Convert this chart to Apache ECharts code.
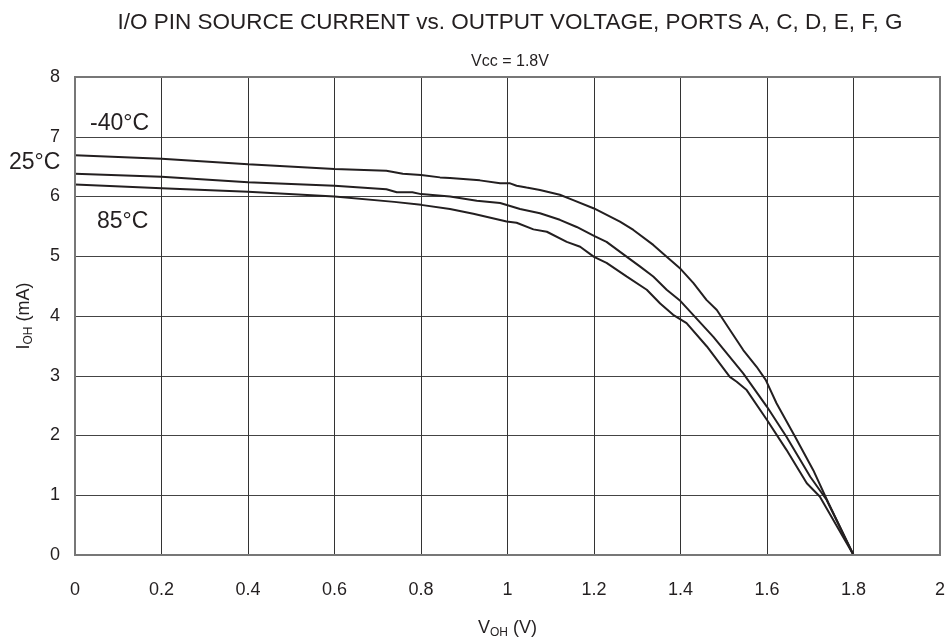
<!DOCTYPE html>
<html>
<head>
<meta charset="utf-8">
<script src="https://cdn.jsdelivr.net/npm/echarts@6/dist/echarts.min.js"></script>
<style>html,body{margin:0;padding:0;background:#fff}#c{width:952px;height:642px}</style>
</head>
<body>
<div id="c"></div>
<script>
const xTicks = [0, 0.2, 0.4, 0.6, 0.8, 1, 1.2, 1.4, 1.6, 1.8, 2];
const yTicks = [0, 1, 2, 3, 4, 5, 6, 7, 8];

const vM40 = [0, 0.2, 0.4, 0.6, 0.72, 0.758, 0.8, 0.844, 0.867, 0.936, 0.983, 1.006, 1.021, 1.044, 1.075, 1.121, 1.152, 1.2, 1.26, 1.291, 1.337, 1.368, 1.4, 1.43, 1.46, 1.484, 1.514, 1.545, 1.576, 1.597, 1.622, 1.665, 1.707, 1.742, 1.8];
const iM40 = [6.69, 6.63, 6.54, 6.46, 6.43, 6.38, 6.36, 6.32, 6.31, 6.27, 6.22, 6.22, 6.18, 6.15, 6.11, 6.03, 5.94, 5.80, 5.58, 5.44, 5.19, 4.99, 4.79, 4.55, 4.27, 4.10, 3.77, 3.43, 3.15, 2.93, 2.54, 1.98, 1.42, 0.87, 0];

const v25 = [0, 0.2, 0.4, 0.6, 0.72, 0.744, 0.78, 0.8, 0.867, 0.929, 0.983, 1.029, 1.075, 1.121, 1.16, 1.2, 1.229, 1.276, 1.306, 1.337, 1.368, 1.4, 1.476, 1.545, 1.6, 1.645, 1.70, 1.738, 1.8];
const i25 = [6.38, 6.33, 6.24, 6.18, 6.12, 6.07, 6.07, 6.04, 6.00, 5.93, 5.89, 5.79, 5.72, 5.61, 5.49, 5.34, 5.24, 4.99, 4.83, 4.66, 4.44, 4.25, 3.65, 3.04, 2.48, 1.98, 1.31, 0.92, 0];

const v85 = [0, 0.2, 0.4, 0.6, 0.738, 0.8, 0.867, 0.921, 0.998, 1.021, 1.06, 1.091, 1.137, 1.168, 1.2, 1.229, 1.276, 1.322, 1.353, 1.383, 1.414, 1.461, 1.514, 1.53, 1.553, 1.6, 1.645, 1.692, 1.722, 1.8];
const i85 = [6.20, 6.14, 6.08, 6.00, 5.91, 5.86, 5.79, 5.71, 5.58, 5.56, 5.45, 5.41, 5.24, 5.16, 4.99, 4.89, 4.66, 4.44, 4.21, 4.02, 3.88, 3.49, 2.98, 2.90, 2.76, 2.26, 1.76, 1.20, 0.98, 0];

const seriesNames = ['-40°C', '25°C', '85°C'];
const zip = (a, b) => a.map((v, k) => [v, b[k]]);
const FONT = 'Liberation Sans, Arial, sans-serif';
const INK = '#231f20';

const chart = echarts.init(document.getElementById('c'), null, {renderer: 'canvas'});
chart.setOption({
  animation: false,
  backgroundColor: '#fff',
  title: [
    {text: 'I/O PIN SOURCE CURRENT vs. OUTPUT VOLTAGE, PORTS A, C, D, E, F, G', left: 505, top: 6, textAlign: 'center',
     textStyle: {fontFamily: FONT, fontSize: 22.5, fontWeight: 'normal', color: INK}},
    {text: 'Vcc = 1.8V', left: 505, top: 49, textAlign: 'center',
     textStyle: {fontFamily: FONT, fontSize: 16, fontWeight: 'normal', color: INK}}
  ],
  grid: {left: 75, right: 12, top: 77, bottom: 87, containLabel: false, outerBoundsMode: 'none'},
  xAxis: {
    type: 'value', min: 0, max: 2, interval: 0.2,
    name: '{a|V}{s|OH}{a| (V)}', nameLocation: 'middle', nameGap: 63,
    nameTextStyle: {rich: {a: {fontSize: 18, fontFamily: FONT, color: INK}, s: {fontSize: 12, fontFamily: FONT, color: INK, verticalAlign: 'bottom', padding: [9, 0, 0, 0]}}},
    axisLine: {show: true, lineStyle: {color: '#666', width: 2}},
    axisTick: {show: false},
    axisLabel: {margin: 26, fontSize: 18, fontFamily: FONT, color: INK, formatter: v => String(+v.toFixed(1))},
    splitLine: {show: true, lineStyle: {color: '#333', width: 1}}
  },
  yAxis: {
    type: 'value', min: 0, max: 8, interval: 1,
    name: '{a|I}{s|OH}{a| (mA)}', nameLocation: 'middle', nameGap: 40, nameRotate: 90,
    nameTextStyle: {rich: {a: {fontSize: 18, fontFamily: FONT, color: INK}, s: {fontSize: 12, fontFamily: FONT, color: INK, verticalAlign: 'bottom', padding: [9, 0, 0, 0]}}},
    axisLine: {show: true, lineStyle: {color: '#666', width: 2}},
    axisTick: {show: false},
    axisLabel: {margin: 15, fontSize: 18, fontFamily: FONT, color: INK},
    splitLine: {show: true, lineStyle: {color: '#444', width: 1}}
  },
  graphic: [
    {type: 'rect', shape: {x: 75, y: 77, width: 865, height: 478}, style: {fill: 'none', stroke: '#777', lineWidth: 2}, silent: true, z: 10},
    {type: 'text', left: 90, top: 112, style: {text: seriesNames[0], font: '23px ' + FONT, fill: INK}},
    {type: 'text', left: 9, top: 151, style: {text: seriesNames[1], font: '23px ' + FONT, fill: INK}},
    {type: 'text', left: 97, top: 210, style: {text: seriesNames[2], font: '23px ' + FONT, fill: INK}}
  ],
  series: [
    {name: seriesNames[0], type: 'line', data: zip(vM40, iM40), showSymbol: false, lineStyle: {color: INK, width: 2}},
    {name: seriesNames[1], type: 'line', data: zip(v25, i25), showSymbol: false, lineStyle: {color: INK, width: 2}},
    {name: seriesNames[2], type: 'line', data: zip(v85, i85), showSymbol: false, lineStyle: {color: INK, width: 2}}
  ]
});
</script>
</body>
</html>
